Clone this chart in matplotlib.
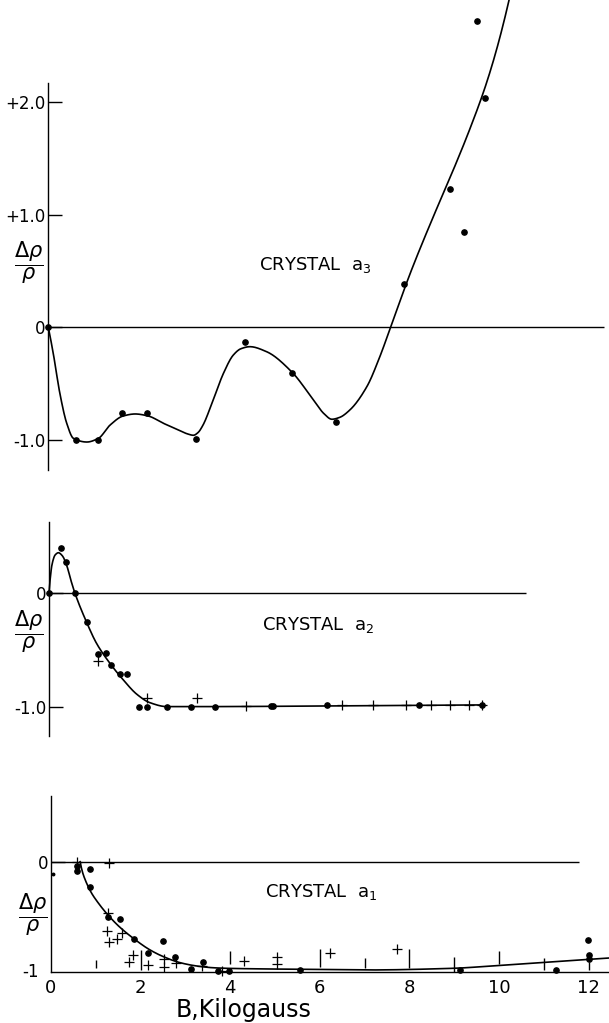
import numpy as np
import matplotlib
matplotlib.use('Agg')
import matplotlib.pyplot as plt

plt.rcParams['font.family'] = ['DejaVu Sans']
plt.rcParams['mathtext.fontset'] = 'dejavusans'

# ---- crystal a3 (top) ----
a3_x = [0, 0.61, 1.12, 1.65, 2.21, 3.30, 4.39, 5.43, 6.42, 7.95, 8.96, 9.29, 9.56, 9.74]
a3_y = [0, -1.0, -1.0, -0.758, -0.758, -0.994, -0.133, -0.405, -0.840, 0.384, 1.224, 0.843, 2.72, 2.035]
# hand-drawn fit curve
a3_fit_x = [0, 0.11, 0.26, 0.41, 0.56, 0.86, 1.12, 1.38, 1.67, 1.94, 2.23, 2.57, 2.94, 3.10,
            3.24, 3.34, 3.45, 3.68, 3.91, 4.13, 4.30, 4.50, 4.87, 5.43, 5.92, 6.15, 6.33,
            6.50, 6.73, 7.11, 7.40, 7.64, 8.07, 8.56, 8.97, 9.41, 9.75, 10.01, 10.30]
a3_fit_y = [0, -0.23, -0.59, -0.85, -0.985, -1.018, -0.985, -0.867, -0.787, -0.769, -0.787,
            -0.852, -0.917, -0.945, -0.958, -0.935, -0.87, -0.645, -0.408, -0.246, -0.19,
            -0.172, -0.216, -0.394, -0.645, -0.765, -0.816, -0.80, -0.734, -0.527, -0.261,
            0.0, 0.47, 0.95, 1.33, 1.76, 2.13, 2.47, 2.93]

# ---- crystal a2 (middle) ----
a2_dot_x = [0, 0.26, 0.38, 0.58, 0.84, 1.09, 1.27, 1.38, 1.59, 1.73, 2.02, 2.19, 2.63, 3.17,
            3.71, 4.95, 5.00, 6.20, 8.26, 9.66]
a2_dot_y = [0, 0.40, 0.28, 0.0, -0.256, -0.536, -0.524, -0.633, -0.715, -0.715, -1.0, -1.0,
            -1.0, -1.0, -1.0, -0.995, -0.995, -0.99, -0.99, -0.985]
a2_crs_x = [1.10, 2.19, 3.30, 4.39, 6.53, 7.23, 7.97, 8.52, 8.96, 9.37, 9.66]
a2_crs_y = [-0.595, -0.92, -0.92, -0.995, -0.99, -0.99, -0.988, -0.988, -0.985, -0.985, -0.985]
a2_fit_x = [0, 0.03, 0.07, 0.14, 0.21, 0.30, 0.40, 0.50, 0.58, 0.84, 1.06, 1.36, 1.66, 1.96,
            2.25, 2.63, 3.5, 6.0, 9.71]
a2_fit_y = [0, 0.14, 0.26, 0.34, 0.358, 0.33, 0.24, 0.10, 0, -0.256, -0.441, -0.618, -0.765,
            -0.891, -0.965, -1.0, -1.0, -0.995, -0.985]

# ---- crystal a1 (bottom) ----
a1_dot_x = [0.57, 0.57, 0.86, 0.86, 1.27, 1.54, 1.86, 2.16, 2.51, 2.77, 3.12, 3.40, 3.73, 3.98,
            5.56, 9.13, 11.27, 11.99, 12.0, 12.0]
a1_dot_y = [-0.04, -0.08, -0.069, -0.226, -0.502, -0.518, -0.701, -0.822, -0.716, -0.864,
            -0.969, -0.903, -0.985, -0.985, -0.976, -0.976, -0.976, -0.707, -0.846, -0.876]
a1_crs_x = [0.57, 1.29, 1.28, 1.24, 1.58, 1.48, 1.29, 1.82, 1.73, 2.17, 2.53, 2.53, 2.78, 3.38,
            3.81, 4.31, 5.05, 5.05, 6.23, 7.72]
a1_crs_y = [0.0, -0.01, -0.466, -0.623, -0.641, -0.698, -0.723, -0.843, -0.903, -0.933, -0.882,
            -0.949, -0.912, -0.942, -0.985, -0.894, -0.864, -0.924, -0.822, -0.791]
a1_bar_x = [1, 2, 4, 6, 7, 8, 9, 10, 11, 12]
a1_bar_lo = [-0.96, -0.978, -0.926, -0.948, -0.958, -0.958, -0.994, -0.926, -0.978, -0.978]
a1_bar_hi = [-0.89, -0.797, -0.803, -0.788, -0.873, -0.788, -0.858, -0.803, -0.867, -0.909]
a1_fit_x = [0.65, 0.70, 0.78, 0.90, 1.05, 1.27, 1.54, 1.86, 2.21, 2.51, 2.88, 3.25, 3.62, 4.0,
            5.56, 7.05, 8.98, 10.02, 10.99, 12.02, 12.6]
a1_fit_y = [0, -0.09, -0.18, -0.28, -0.37, -0.481, -0.593, -0.699, -0.797, -0.858, -0.912,
            -0.942, -0.958, -0.964, -0.972, -0.978, -0.963, -0.936, -0.909, -0.882, -0.866]
x_ticks = [0, 2, 4, 6, 8, 10, 12]


def pchip(xs, ys, n=800):
    # monotone cubic through the points
    x = np.asarray(xs, float)
    y = np.asarray(ys, float)
    h = np.diff(x)
    dl = np.diff(y) / h
    d = np.zeros_like(y)
    for k in range(1, len(x) - 1):
        if dl[k - 1] * dl[k] > 0:
            w1 = 2 * h[k] + h[k - 1]
            w2 = h[k] + 2 * h[k - 1]
            d[k] = (w1 + w2) / (w1 / dl[k - 1] + w2 / dl[k])
    for k, (a, b, ha, hb) in ((0, (dl[0], dl[1], h[0], h[1])), (-1, (dl[-1], dl[-2], h[-1], h[-2]))):
        e = ((2 * ha + hb) * a - ha * b) / (ha + hb)
        if np.sign(e) != np.sign(a):
            e = 0
        elif np.sign(a) != np.sign(b) and abs(e) > abs(3 * a):
            e = 3 * a
        d[k] = e
    xx = np.linspace(x[0], x[-1], n)
    i = np.clip(np.searchsorted(x, xx) - 1, 0, len(x) - 2)
    t = (xx - x[i]) / h[i]
    yy = ((2 * t**3 - 3 * t**2 + 1) * y[i] + (t**3 - 2 * t**2 + t) * h[i] * d[i]
          + (-2 * t**3 + 3 * t**2) * y[i + 1] + (t**3 - t**2) * h[i] * d[i + 1])
    return xx, yy


W, H = 609, 1023
XU = 44.8  # px per kilogauss
fig = plt.figure(figsize=(W / 100, H / 100), dpi=100)


def panel(r0, r1, x0, zero, unit):
    ax = fig.add_axes([0, 1 - r1 / H, 1, (r1 - r0) / H])
    ax.set_xlim(-x0 / XU, (W - x0) / XU)
    ax.set_ylim((zero - r1) / unit, (zero - r0) / unit)
    ax.patch.set_alpha(0)
    for s in ['top', 'right', 'bottom']:
        ax.spines[s].set_visible(False)
    ax.spines['left'].set_position(('data', 0))
    ax.spines['left'].set_linewidth(1.0)
    ax.tick_params(axis='y', direction='in', length=10, width=1.0, pad=2, labelsize=12)
    ax.set_xticks([])
    return ax


lw_fit = 1.2
dot = dict(ls='none', marker='o', ms=3.8, color='black')
crs = dict(ls='none', marker='+', ms=7, mew=0.9, color='black')
ylab = r'$\dfrac{\Delta\rho}{\rho}$'

# top
ax = panel(0, 480, 48.3, 327.3, 112.7)
ax.spines['left'].set_bounds(-1.27, 2.17)
ax.set_yticks([2, 1, 0, -1], ['+2.0', '+1.0', '0', '-1.0'])
ax.hlines(0, 0, 12.4, color='black', lw=1.0)
ax.plot(*pchip(a3_fit_x, a3_fit_y), color='black', lw=lw_fit)
ax.plot(a3_x, a3_y, **dot)
ax.text(4.71, 0.55, 'CRYSTAL  a$_3$', fontsize=13, va='center', ha='left')
ax.text(-0.43, 0.57, ylab, fontsize=15, va='center', ha='center')

# middle
ax = panel(500, 760, 49, 593.3, 113.3)
ax.spines['left'].set_bounds(-1.26, 0.63)
ax.set_yticks([0, -1], ['0', '-1.0'])
ax.hlines(0, 0, 10.65, color='black', lw=1.0)
ax.plot(*pchip(a2_fit_x, a2_fit_y), color='black', lw=lw_fit)
ax.plot(a2_dot_x, a2_dot_y, **dot)
ax.plot(a2_crs_x, a2_crs_y, **crs)
ax.text(4.75, -0.28, 'CRYSTAL  a$_2$', fontsize=13, va='center', ha='left')
ax.text(-0.45, -0.34, ylab, fontsize=15, va='center', ha='center')

# bottom
ax = panel(780, 1023, 51, 861.7, 110.7)
ax.spines['left'].set_bounds(-1.0, 0.59)
ax.spines['bottom'].set_visible(True)
ax.spines['bottom'].set_position(('data', -1))
ax.spines['bottom'].set_bounds(0, 12.44)
ax.spines['bottom'].set_linewidth(1.0)
ax.set_yticks([0], ['0'])
ax.set_xticks(x_ticks, [str(v) for v in x_ticks])
ax.tick_params(axis='x', length=0, pad=5, labelsize=13)
ax.text(-0.27, -1.0, '-1', fontsize=12, va='center', ha='right')
ax.hlines(0, 0, 11.78, color='black', lw=1.0)
ax.vlines(a1_bar_x, a1_bar_lo, a1_bar_hi, color='black', lw=1.0)
ax.plot(*pchip(a1_fit_x, a1_fit_y), color='black', lw=lw_fit, clip_on=False)
ax.plot(a1_dot_x, a1_dot_y, **dot)
ax.plot(a1_crs_x, a1_crs_y, **crs)
ax.plot([0.05], [-0.11], ls='none', marker='o', ms=1.8, color='black')
ax.text(4.78, -0.27, 'CRYSTAL  a$_1$', fontsize=13, va='center', ha='left')
ax.text(-0.40, -0.48, ylab, fontsize=15, va='center', ha='center')
ax.text(4.3, -1.34, 'B,Kilogauss', fontsize=17, va='center', ha='center')

fig.savefig('out.png', dpi=100)
